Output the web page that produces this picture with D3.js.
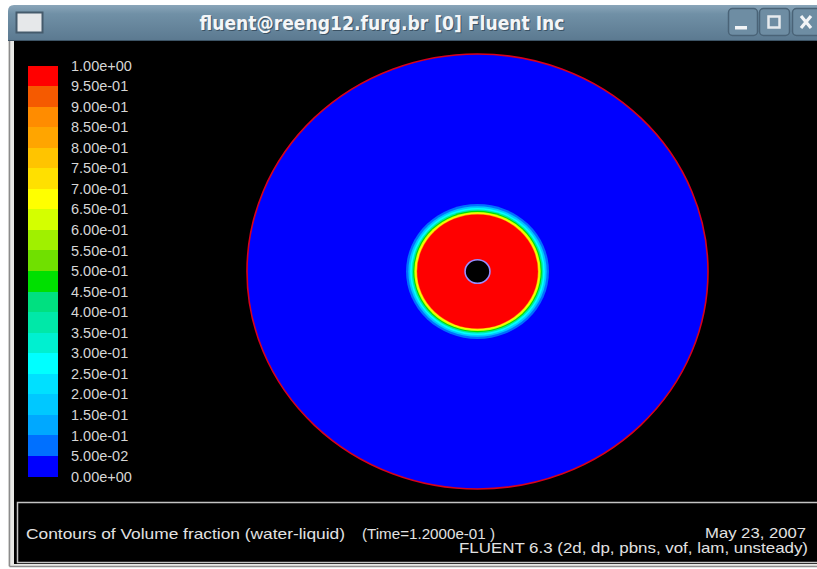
<!DOCTYPE html>
<html>
<head>
<meta charset="utf-8">
<script src="https://cdn.jsdelivr.net/npm/d3@7/dist/d3.min.js"></script>
<style>
  html, body { margin: 0; padding: 0; background: #ffffff; }
  svg { display: block; }
</style>
</head>
<body>
<svg id="chart" width="817" height="569"></svg>
<script>
// ---------------- data ----------------
const windowTitle = "fluent@reeng12.furg.br [0] Fluent Inc";
const legendTicks = [0, 0.05, 0.10, 0.15, 0.20, 0.25, 0.30, 0.35, 0.40, 0.45, 0.50,
                     0.55, 0.60, 0.65, 0.70, 0.75, 0.80, 0.85, 0.90, 0.95, 1.00];
const legendLabels = ["0.00e+00", "5.00e-02", "1.00e-01", "1.50e-01", "2.00e-01", "2.50e-01",
                      "3.00e-01", "3.50e-01", "4.00e-01", "4.50e-01", "5.00e-01", "5.50e-01",
                      "6.00e-01", "6.50e-01", "7.00e-01", "7.50e-01", "8.00e-01", "8.50e-01",
                      "9.00e-01", "9.50e-01", "1.00e+00"];
// one colour per band, from 0 (bottom) to 1 (top)
const bandColors = ["#0000ff", "#0070ff", "#00a8ff", "#00c8ff", "#00e0ff", "#00ffff",
                    "#00f0d0", "#00e8a8", "#00e080", "#00e000", "#70e000", "#a0f000",
                    "#d4ff00", "#ffff00", "#ffe000", "#ffc400", "#ffa500", "#ff8c00",
                    "#f55a00", "#ff0000"];
// domain geometry (normalised radius) and volume-fraction profile of the droplet
const wallRadius = 1.0;
const wallValue = 0.0;
const holeRadius = 0.054;
const ringRadius = [0.310, 0.300, 0.292, 0.285, 0.279, 0.274, 0.269, 0.265, 0.262];
const ringValue  = [0.08,  0.18,  0.28,  0.38,  0.47,  0.62,  0.68,  0.82,  1.00];
const captionLeft = "Contours of Volume fraction (water-liquid)";
const captionTime = "(Time=1.2000e-01 )";
const captionDate = "May 23, 2007";
const captionSolver = "FLUENT 6.3 (2d, dp, pbns, vof, lam, unsteady)";

// ---------------- drawing ----------------
const svg = d3.select("#chart");
const defs = svg.append("defs");
const grad = defs.append("linearGradient").attr("id", "tbar")
  .attr("x1", 0).attr("y1", 0).attr("x2", 0).attr("y2", 1);
grad.append("stop").attr("offset", "0%").attr("stop-color", "#8aa5b9");
grad.append("stop").attr("offset", "25%").attr("stop-color", "#7090a6");
grad.append("stop").attr("offset", "100%").attr("stop-color", "#5b7990");

// window frame
svg.append("rect").attr("x", 0).attr("y", 0).attr("width", 817).attr("height", 569).attr("fill", "#ffffff");
svg.append("rect").attr("x", 8).attr("y", 30).attr("width", 809).attr("height", 536).attr("fill", "#e9e9e6");
svg.append("line").attr("x1", 9.5).attr("y1", 30).attr("x2", 9.5).attr("y2", 566.5)
  .attr("stroke", "#8c8c8c").attr("stroke-width", 1.5);
svg.append("line").attr("x1", 9.5).attr("y1", 566.5).attr("x2", 817).attr("y2", 566.5)
  .attr("stroke", "#8c8c8c").attr("stroke-width", 1.5);
// black graphics area
svg.append("rect").attr("x", 14).attr("y", 40).attr("width", 803).attr("height", 524).attr("fill", "#000000");

// title bar
svg.append("path")
  .attr("d", "M8,41 L8,11 Q8,5 14,5 L817,5 L817,41 Z")
  .attr("fill", "url(#tbar)");
svg.append("line").attr("x1", 8).attr("y1", 40.5).attr("x2", 817).attr("y2", 40.5)
  .attr("stroke", "#3d5466").attr("stroke-width", 1);
// window icon
svg.append("rect").attr("x", 16.5).attr("y", 12.5).attr("width", 26).attr("height", 20)
  .attr("fill", "#e6e8ea").attr("stroke", "#455b6c").attr("stroke-width", 2);
// title text (shadow + text)
svg.append("text").attr("x", 383).attr("y", 31).attr("text-anchor", "middle")
  .attr("font-family", "DejaVu Sans").attr("font-weight", "bold").attr("font-size", 19)
  .attr("textLength", 365).attr("lengthAdjust", "spacingAndGlyphs")
  .attr("fill", "#3b5264").text(windowTitle);
svg.append("text").attr("x", 382).attr("y", 30).attr("text-anchor", "middle")
  .attr("font-family", "DejaVu Sans").attr("font-weight", "bold").attr("font-size", 19)
  .attr("textLength", 365).attr("lengthAdjust", "spacingAndGlyphs")
  .attr("fill", "#f4f6f8").text(windowTitle);
// title bar buttons
const buttons = [{x: 728, w: 29}, {x: 759, w: 30}, {x: 792, w: 30}];
buttons.forEach(b => {
  svg.append("rect").attr("x", b.x + 0.5).attr("y", 8.5).attr("width", b.w).attr("height", 27)
    .attr("rx", 4).attr("fill", "#6e8da3").attr("stroke", "#4a6377").attr("stroke-width", 1.5);
});
svg.append("rect").attr("x", 735).attr("y", 26).attr("width", 12).attr("height", 3.5).attr("fill", "#f2f4f6");
svg.append("rect").attr("x", 768.5).attr("y", 16.5).attr("width", 11).attr("height", 11)
  .attr("fill", "none").attr("stroke", "#e6eaee").attr("stroke-width", 2.5);
svg.append("path").attr("d", "M801,16 L811,28 M811,16 L801,28")
  .attr("stroke", "#f2f4f6").attr("stroke-width", 3.2).attr("fill", "none");

// ---------------- legend (colour bar) ----------------
const yLegend = d3.scaleLinear().domain([0, 1]).range([476.5, 65.5]);
const colorScale = d3.scaleQuantize().domain([0, 1]).range(bandColors);
const bands = d3.range(bandColors.length).map(i => ({lo: legendTicks[i], hi: legendTicks[i + 1]}));
svg.append("g").selectAll("rect").data(bands).join("rect")
  .attr("x", 28).attr("width", 30)
  .attr("y", d => yLegend(d.hi))
  .attr("height", d => yLegend(d.lo) - yLegend(d.hi))
  .attr("fill", d => colorScale((d.lo + d.hi) / 2))
  .attr("shape-rendering", "crispEdges");
const legendAxis = d3.axisRight(yLegend)
  .tickValues(legendTicks)
  .tickFormat((d, i) => legendLabels[i])
  .tickSize(0).tickPadding(13);
const gAxis = svg.append("g").attr("transform", "translate(58,0)").call(legendAxis);
gAxis.select(".domain").remove();
gAxis.selectAll("text")
  .attr("font-family", "Liberation Sans").attr("font-size", 14.5)
  .attr("fill", "#d6d6d6");

// ---------------- contour plot ----------------
const xs = d3.scaleLinear().domain([-1, 1]).range([247, 708]);
const ys = d3.scaleLinear().domain([-1, 1]).range([489, 54]);
const rx = r => xs(r) - xs(0);
const ry = r => ys(0) - ys(r);
const plot = svg.append("g");
plot.append("ellipse")
  .attr("cx", xs(0)).attr("cy", ys(0))
  .attr("rx", rx(wallRadius)).attr("ry", ry(wallRadius))
  .attr("fill", colorScale(wallValue))
  .attr("stroke", "#d8001c").attr("stroke-width", 1.6);
const rings = ringRadius.map((r, i) => ({r: r, v: ringValue[i]}));
plot.selectAll("ellipse.ring").data(rings).join("ellipse")
  .attr("class", "ring")
  .attr("cx", xs(0)).attr("cy", ys(0))
  .attr("rx", d => rx(d.r)).attr("ry", d => ry(d.r))
  .attr("fill", d => colorScale(d.v));
plot.append("ellipse")
  .attr("cx", xs(0)).attr("cy", ys(0))
  .attr("rx", rx(holeRadius)).attr("ry", ry(holeRadius))
  .attr("fill", "#000000").attr("stroke", "#9a8cff").attr("stroke-width", 1.6);

// ---------------- caption panel ----------------
svg.append("rect").attr("x", 17.5).attr("y", 502.5).attr("width", 810).attr("height", 60)
  .attr("fill", "#000000").attr("stroke", "#c4c4c4").attr("stroke-width", 1.5);
const capFont = "Liberation Sans";
svg.append("text").attr("x", 26).attr("y", 539)
  .attr("font-family", capFont).attr("font-size", 14.5).attr("fill", "#e2e2e2")
  .attr("textLength", 319).attr("lengthAdjust", "spacingAndGlyphs").text(captionLeft);
svg.append("text").attr("x", 362).attr("y", 539)
  .attr("font-family", capFont).attr("font-size", 14.5).attr("fill", "#e2e2e2")
  .attr("textLength", 133).attr("lengthAdjust", "spacingAndGlyphs").text(captionTime);
svg.append("text").attr("x", 806).attr("y", 538).attr("text-anchor", "end")
  .attr("font-family", capFont).attr("font-size", 14.5).attr("fill", "#e2e2e2")
  .attr("textLength", 101).attr("lengthAdjust", "spacingAndGlyphs").text(captionDate);
svg.append("text").attr("x", 808).attr("y", 553).attr("text-anchor", "end")
  .attr("font-family", capFont).attr("font-size", 14.5).attr("fill", "#e2e2e2")
  .attr("textLength", 349).attr("lengthAdjust", "spacingAndGlyphs").text(captionSolver);
</script>
</body>
</html>
